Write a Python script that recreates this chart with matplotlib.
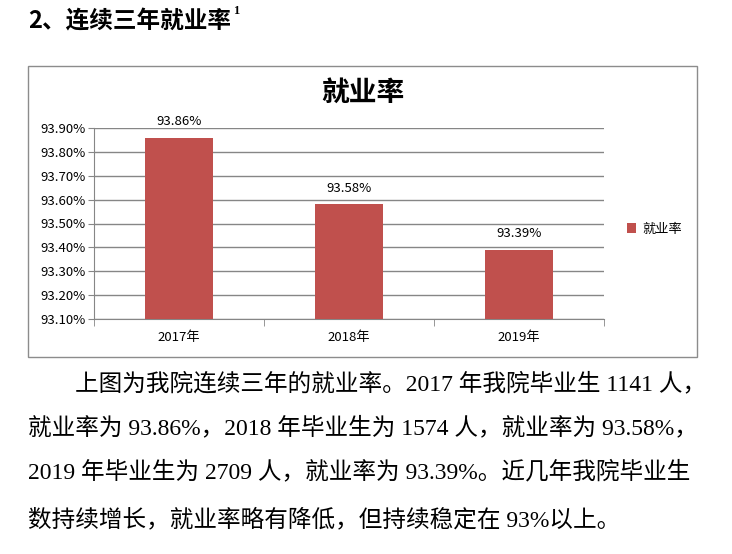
import matplotlib.pyplot as plt
from matplotlib.patches import Rectangle
from matplotlib.ticker import FuncFormatter

plt.rcParams['font.family'] = ['Noto Sans CJK SC', 'DejaVu Sans']

# 数据
years = ['2017年', '2018年', '2019年']
rates = [93.86, 93.58, 93.39]
bar_labels = ['93.86%', '93.58%', '93.39%']
y_ticks = [93.1, 93.2, 93.3, 93.4, 93.5, 93.6, 93.7, 93.8, 93.9]

heading = '2、连续三年就业率'
paragraph = [
    '上图为我院连续三年的就业率。2017 年我院毕业生 1141 人，',
    '就业率为 93.86%，2018 年毕业生为 1574 人，就业率为 93.58%，',
    '2019 年毕业生为 2709 人，就业率为 93.39%。近几年我院毕业生',
    '数持续增长，就业率略有降低，但持续稳定在 93%以上。',
]

W, H = 732, 554
fig = plt.figure(figsize=(W / 100, H / 100), dpi=100)


def fx(px):
    return px / W


def fy(py):
    return 1 - py / H


bar_color = '#C0504D'
grid_color = '#868686'

# 标题
fig.text(fx(28), fy(21), heading, fontsize=17, fontweight='bold',
         ha='left', va='center')
fig.text(fx(233), fy(11), '1', fontsize=9, fontweight='bold',
         family=['Liberation Serif'], ha='left', va='center')

# 图表外框
fig.patches.append(Rectangle((fx(28), fy(357)), fx(697) - fx(28), fy(66) - fy(357),
                             transform=fig.transFigure, fill=False,
                             edgecolor='#8c8c8c', linewidth=1.0))

fig.text(fx(363), fy(93), '就业率', fontsize=20, fontweight='bold',
         ha='center', va='center')

# 柱状图
ax = fig.add_axes([fx(94), fy(319), fx(604) - fx(94), fy(128) - fy(319)])
x = range(len(years))
bars = ax.bar(x, rates, width=0.4, color=bar_color, zorder=3, label='就业率')
ax.set_ylim(93.1, 93.9)
ax.set_xlim(-0.5, 2.5)
ax.set_yticks(y_ticks)
ax.yaxis.set_major_formatter(FuncFormatter(lambda v, p: f'{v:.2f}%'))
ax.set_xticks(list(x))
ax.set_xticklabels(years)
ax.set_xticks([-0.5, 0.5, 1.5, 2.5], minor=True)
ax.tick_params(axis='x', which='major', length=0, pad=9, labelsize=9.5)
ax.tick_params(axis='x', which='minor', length=5, color=grid_color)
ax.tick_params(axis='y', length=4, color=grid_color, labelsize=9.5, pad=2)
ax.grid(axis='y', color=grid_color, linewidth=1, zorder=0)
for side in ['top', 'right']:
    ax.spines[side].set_visible(False)
for side in ['left', 'bottom']:
    ax.spines[side].set_color(grid_color)

for b, lab in zip(bars, bar_labels):
    ax.annotate(lab, (b.get_x() + b.get_width() / 2, b.get_height()),
                xytext=(0, 7), textcoords='offset points',
                ha='center', va='bottom', fontsize=9.5)

ax.legend(loc='center left', bbox_to_anchor=((615 - 94) / (604 - 94), 0.47),
          frameon=False, fontsize=9.5, handlelength=0.7, handleheight=0.7,
          handletextpad=0.5)

# 正文
line_y = [384, 428, 472, 520]
line_x = [75, 28, 28, 28]
for t, px, py in zip(paragraph, line_x, line_y):
    fig.text(fx(px), fy(py), t, fontsize=17,
             family=['Liberation Serif', 'Noto Sans CJK SC'],
             ha='left', va='center')

fig.savefig('out.png', dpi=100)
